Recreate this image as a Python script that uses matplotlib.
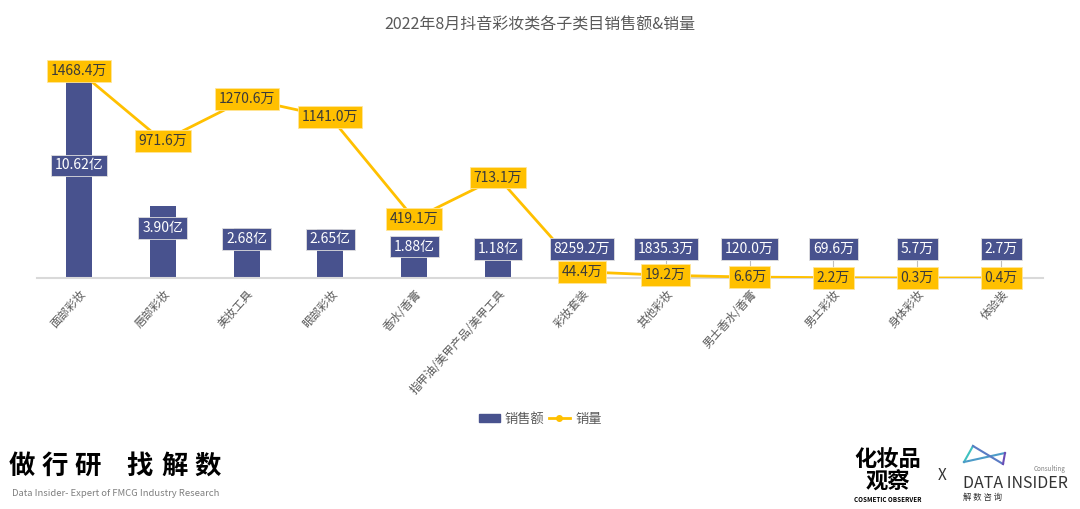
import matplotlib
matplotlib.use("Agg")
import matplotlib.pyplot as plt
from matplotlib.patches import Patch
from matplotlib.lines import Line2D

plt.rcParams["font.family"] = ["Noto Sans CJK SC", "DejaVu Sans"]

# data (sales in 亿元, volume in 万件)
CATEGORIES = ["面部彩妆", "唇部彩妆", "美妆工具", "眼部彩妆", "香水/香膏",
              "指甲油/美甲产品/美甲工具", "彩妆套装", "其他彩妆", "男士香水/香膏",
              "男士彩妆", "身体彩妆", "体验装"]
SALES = [10.62, 3.90, 2.68, 2.65, 1.88, 1.18, 0.82592, 0.18353, 0.0120,
         0.00696, 0.00057, 0.00027]
VOLUME = [1468.4, 971.6, 1270.6, 1141.0, 419.1, 713.1, 44.4, 19.2, 6.6,
          2.2, 0.3, 0.4]

NAVY = "#48528E"
YELLOW = "#FFC000"
GREY = "#595959"


def sales_label(v):
    return f"{v:.2f}亿" if v >= 1 else f"{v * 1e4:.1f}万"


W, H = 1080, 509
fig = plt.figure(figsize=(W / 100, H / 100), dpi=100)
ax_l, ax_r, ax_base, ax_top = 37, 1043, 278, 60
ax = fig.add_axes([ax_l / W, 1 - ax_base / H, (ax_r - ax_l) / W,
                   (ax_base - ax_top) / H])
ax2 = ax.twinx()
ax_hpx = ax_base - ax_top

x = list(range(len(CATEGORIES)))
ax.bar(x, SALES, width=0.31, color=NAVY, zorder=2)
ax.set_xlim(-0.5, len(x) - 0.5)
ax.set_ylim(0, 11.75)
ax2.set_ylim(0, 1546)
px_b = 11.75 / ax_hpx

ax2.plot(x, VOLUME, "-o", color=YELLOW, lw=2, ms=4, zorder=3)

for a in (ax, ax2):
    for s in ("top", "left", "right"):
        a.spines[s].set_visible(False)
    a.set_yticks([])
ax2.spines["bottom"].set_visible(False)
ax.spines["bottom"].set_color("#D9D9D9")
ax.spines["bottom"].set_linewidth(1.5)
ax.set_xticks(x)
ax.set_xticklabels(CATEGORIES, rotation=48, ha="right", rotation_mode="anchor",
                   fontsize=8.3, color=GREY)
ax.tick_params(axis="x", length=0, pad=7)

# bar labels
for xi, v in zip(x, SALES):
    ly = max(v / 2 + 14 * px_b, 29 * px_b)
    if ly > v:
        ax.plot([xi, xi], [0, ly], color="#BFBFBF", lw=0.8, zorder=1)
    ax2.annotate(sales_label(v), (xi, ly), xycoords=ax.transData,
                 ha="center", va="center", fontsize=10, color="white",
                 zorder=5,
                 bbox=dict(boxstyle="square,pad=0.28", fc=NAVY,
                           ec="#E0E0E0", lw=0.6))

# line labels
for xi, v in zip(x, VOLUME):
    ax2.annotate(f"{v:.1f}万", (xi, v), ha="center", va="center",
                 fontsize=10, color="#3A3A3A", zorder=6,
                 bbox=dict(boxstyle="square,pad=0.28", fc=YELLOW,
                           ec="#FFE699", lw=0.6))

fig.text(0.5, 1 - 25 / H, "2022年8月抖音彩妆类各子类目销售额&销量",
         ha="center", va="center", fontsize=11.5, color=GREY)

handles = [Patch(color=NAVY), Line2D([], [], color=YELLOW, lw=2, marker="o", ms=4)]
fig.legend(handles, ["销售额", "销量"], loc="center",
           bbox_to_anchor=(0.5, 1 - 419 / H), ncol=2, frameon=False,
           fontsize=9.5, labelcolor=GREY, handlelength=1.6, handleheight=0.6,
           handletextpad=0.4, columnspacing=0.3)

# footer: left slogan
for ch, cx in zip("做行研找解数", [22, 55, 88, 140, 175, 208]):
    fig.text(cx / W, 1 - 466 / H, ch, ha="center", va="center", fontsize=19,
             fontweight="bold", color="black")
fig.text(12 / W, 1 - 493 / H, "Data Insider- Expert of FMCG Industry Research",
         ha="left", va="center", fontsize=6.8, color="#7F7F7F")

# footer: right logos
fig.text(888 / W, 1 - 459 / H, "化妆品", ha="center", va="center",
         fontsize=16, fontweight="bold", color="black")
fig.text(888 / W, 1 - 482 / H, "观察", ha="center", va="center",
         fontsize=16, fontweight="bold", color="black")
fig.text(888 / W, 1 - 500 / H, "COSMETIC OBSERVER", ha="center", va="center",
         fontsize=4.5, fontweight="bold", color="black")
fig.text(942 / W, 1 - 476 / H, "X", ha="center", va="center", fontsize=11,
         color="#333333")
logo = fig.add_axes([960 / W, 1 - 472 / H, 50 / W, 30 / H])
logo.set_xlim(960, 1010)
logo.set_ylim(472, 442)
logo.axis("off")
logo.plot([973, 964], [446, 462], color="#3FC1C0", lw=1.5)
logo.plot([964, 1005], [462, 453], color="#4D9BC8", lw=1.5)
logo.plot([973, 1003], [446, 464], color="#5A7BC4", lw=1.5)
logo.plot([1005, 1003], [453, 464], color="#6A4DB5", lw=1.5)
fig.text(1066 / W, 1 - 469 / H, "Consulting", ha="right", va="center",
         fontsize=4.5, color="#7F7F7F")
fig.text(963 / W, 1 - 483 / H, "DATA INSIDER", ha="left", va="center",
         fontsize=11.5, color="#333333")
fig.text(963 / W, 1 - 497 / H, "解 数 咨 询", ha="left", va="center",
         fontsize=6, color="#333333")

fig.savefig("out.png", dpi=100)
